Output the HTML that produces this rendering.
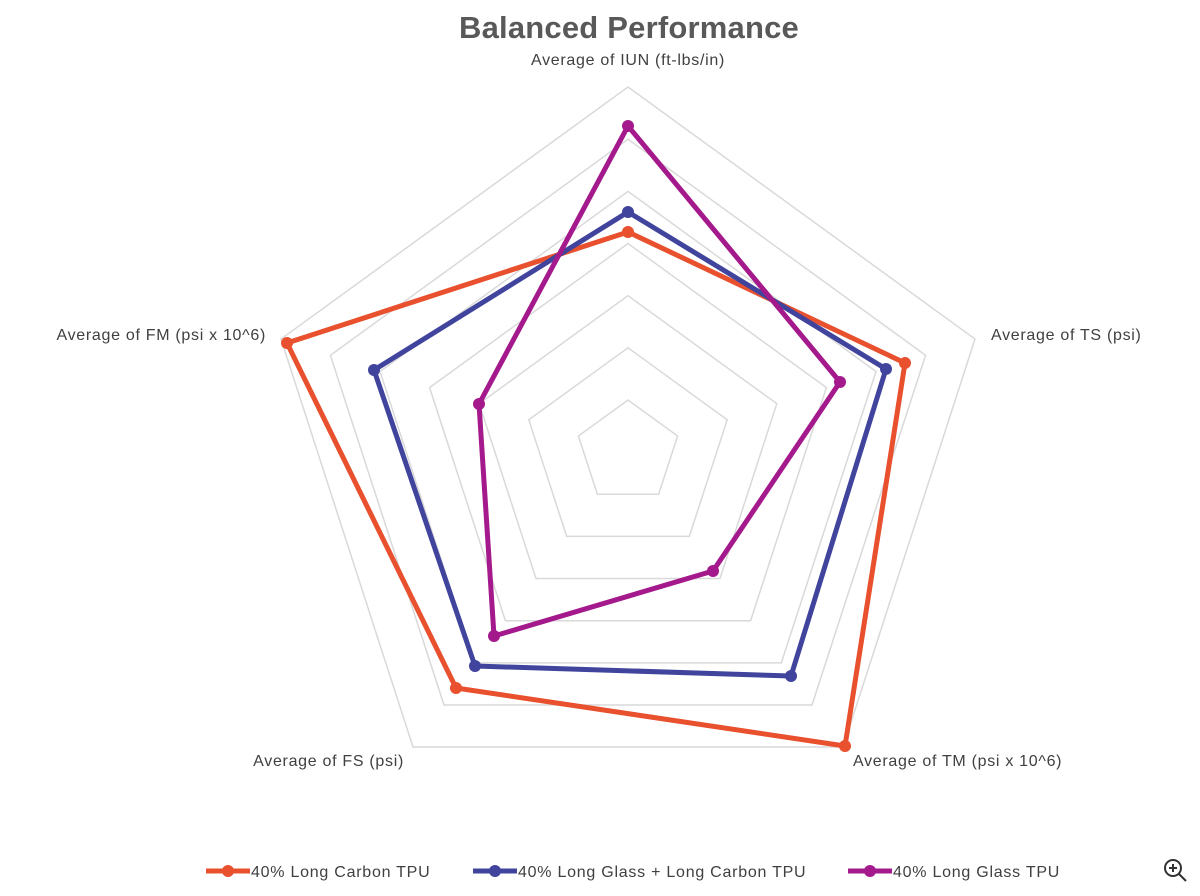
<!DOCTYPE html>
<html><head><meta charset="utf-8"><style>
html,body{margin:0;padding:0;background:#fff;}
svg{display:block;font-family:"Liberation Sans",sans-serif;}
</style></head><body>
<svg width="1200" height="896" viewBox="0 0 1200 896" xmlns="http://www.w3.org/2000/svg">
<rect width="1200" height="896" fill="#fff"/>
<text x="629" y="38" text-anchor="middle" font-size="31" font-weight="bold" fill="#595959" letter-spacing="0.2">Balanced Performance</text>
<g fill="none" stroke="#d9d9d9" stroke-width="1.5">
<polygon points="628,400 677.6,436 658.6,494.2 597.4,494.2 578.4,436"/>
<polygon points="628,347.8 727.2,419.8 689.3,536.4 566.7,536.4 528.8,419.8"/>
<polygon points="628,295.7 776.8,403.7 720,578.5 536,578.5 479.2,403.7"/>
<polygon points="628,243.5 826.4,387.6 750.6,620.7 505.4,620.7 429.6,387.6"/>
<polygon points="628,191.4 876,371.5 781.3,662.9 474.7,662.9 380,371.5"/>
<polygon points="628,139.2 925.6,355.3 812,705 444,705 330.4,355.3"/>
<polygon points="628,87 975,339 843,747 413,747 281,339"/>
</g>
<g font-size="16" fill="#404040" letter-spacing="0.7">
<text x="628" y="65" text-anchor="middle">Average of IUN (ft-lbs/in)</text>
<text x="991" y="340">Average of TS (psi)</text>
<text x="266" y="340" text-anchor="end">Average of FM (psi x 10^6)</text>
<text x="853" y="766">Average of TM (psi x 10^6)</text>
<text x="404" y="766" text-anchor="end">Average of FS (psi)</text>
</g>
<g stroke-width="5" stroke-linejoin="round" fill="none">
<polygon stroke="#e8502e" points="628,232 905,363 845,746 456,688 287,343"/>
<polygon stroke="#41449c" points="628,212 886,369 791,676 475,666 374,370"/>
<polygon stroke="#a4198c" points="628,126 840,382 713,571 494,636 479,404"/>
</g>
<g fill="#e8502e"><circle cx="628" cy="232" r="6"/><circle cx="905" cy="363" r="6"/><circle cx="845" cy="746" r="6"/><circle cx="456" cy="688" r="6"/><circle cx="287" cy="343" r="6"/></g>
<g fill="#41449c"><circle cx="628" cy="212" r="6"/><circle cx="886" cy="369" r="6"/><circle cx="791" cy="676" r="6"/><circle cx="475" cy="666" r="6"/><circle cx="374" cy="370" r="6"/></g>
<g fill="#a4198c"><circle cx="628" cy="126" r="6"/><circle cx="840" cy="382" r="6"/><circle cx="713" cy="571" r="6"/><circle cx="494" cy="636" r="6"/><circle cx="479" cy="404" r="6"/></g>
<g font-size="16" fill="#404040" letter-spacing="0.75">
<line x1="206" y1="871" x2="250" y2="871" stroke="#e8502e" stroke-width="5"/><circle cx="228" cy="871" r="6" fill="#e8502e"/>
<text x="251" y="877">40% Long Carbon TPU</text>
<line x1="473" y1="871" x2="517" y2="871" stroke="#41449c" stroke-width="5"/><circle cx="495" cy="871" r="6" fill="#41449c"/>
<text x="518" y="877">40% Long Glass + Long Carbon TPU</text>
<line x1="848" y1="871" x2="892" y2="871" stroke="#a4198c" stroke-width="5"/><circle cx="870" cy="871" r="6" fill="#a4198c"/>
<text x="893" y="877">40% Long Glass TPU</text>
</g>
<g stroke="#333" stroke-width="2" fill="none">
<circle cx="1173" cy="868" r="8"/><line x1="1179" y1="874" x2="1186" y2="881"/>
<line x1="1169" y1="868" x2="1177" y2="868"/><line x1="1173" y1="864" x2="1173" y2="872"/>
</g>
</svg>
</body></html>
